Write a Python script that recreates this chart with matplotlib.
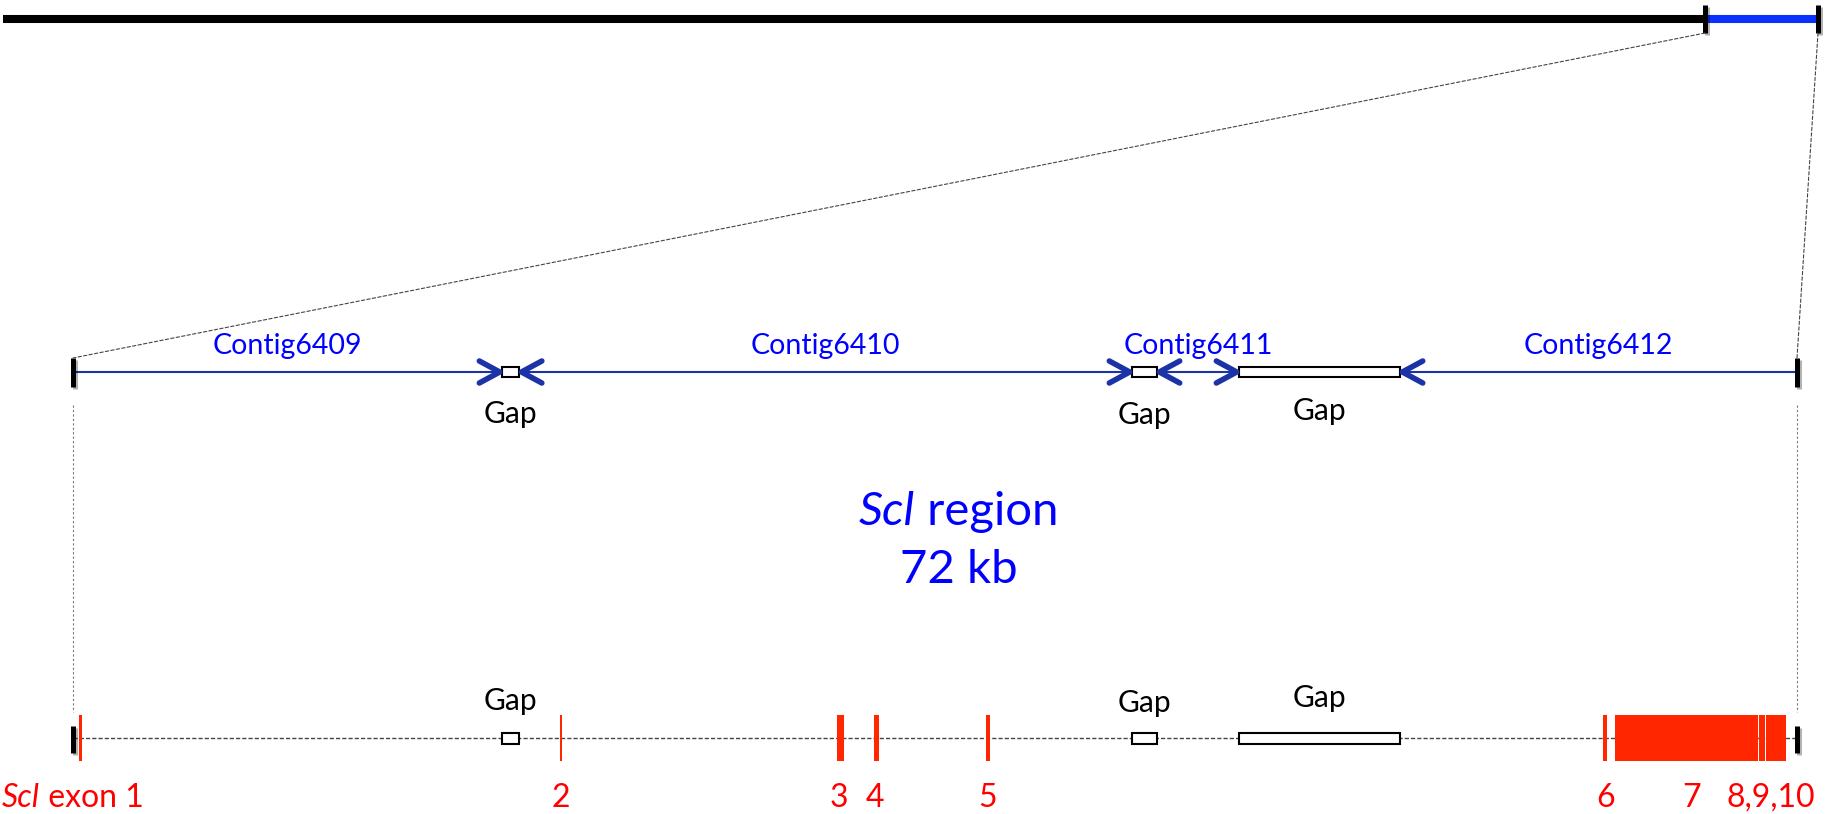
import numpy as np
import matplotlib.pyplot as plt
from matplotlib.patches import Rectangle, ConnectionPatch
import matplotlib.patheffects as pe
from matplotlib.transforms import offset_copy

plt.rcParams['font.family'] = ['Lato', 'DejaVu Sans']

# Data (positions in kb)

scaffold_len = 1157.0
region_start = 1085.0
region_len = 72.0

contig_names = ['Contig6409', 'Contig6410', 'Contig6411', 'Contig6412']
contig_start = [0.0, 18.63, 45.27, 55.42]
contig_end = [17.92, 44.23, 48.70, 72.0]

gap_start = [17.92, 44.23, 48.70]
gap_end = [18.63, 45.27, 55.42]

exon_start = [0.25, 20.34, 31.91, 33.45, 38.13, 63.90, 64.40, 70.42, 70.71]
exon_end = [0.38, 20.42, 32.20, 33.66, 38.29, 64.07, 70.37, 70.67, 71.54]

exon_labels = ['2', '3', '4', '5', '6', '7', '8,9,10']
exon_label_pos = [20.38, 32.0, 33.5, 38.2, 64.0, 67.6, 70.9]

# Layout (rows in pixels from the top, x in kb)

W, H = 1825, 814
TOP_Y, MID_Y, BOT_Y = 19, 372, 738
NAVY = '#1C33A8'
BLUE = '#0000FF'
RED = '#FF0000'
EXON_RED = '#FF2600'

fig = plt.figure(figsize=(W / 100, H / 100), dpi=100)
fig.patch.set_facecolor('white')

# main axis: 0 kb at x=73 px, 72 kb at x=1797 px
kb_px = (1797 - 73) / region_len
ax = fig.add_axes([0, 0, 1, 1])
ax.set_xlim(-73 / kb_px, (W - 73) / kb_px)
ax.set_ylim(H, 0)
ax.axis('off')

# top axis: whole scaffold from x=3 to x=1818 px
sc_px = (1818 - 3) / scaffold_len
ax_top = fig.add_axes([0, 0, 1, 1])
ax_top.set_xlim(-3 / sc_px, (W - 3) / sc_px)
ax_top.set_ylim(H, 0)
ax_top.axis('off')
ax_top.patch.set_visible(False)

shadow = [pe.SimpleLineShadow(offset=(1.5, -1.5), shadow_color='k', alpha=0.3), pe.Normal()]

# Top scaffold
ax_top.plot([0, region_start], [TOP_Y, TOP_Y], color='black', lw=5.8, solid_capstyle='butt')
ax_top.plot([region_start, scaffold_len], [TOP_Y, TOP_Y], color='#0A32FF', lw=5.8, solid_capstyle='butt')
for x in [region_start, scaffold_len]:
    ax_top.plot([x, x], [5, 33], color='black', lw=3.6, solid_capstyle='butt', path_effects=shadow)

# zoom connectors
for xa, xb in [(region_start, 0.0), (scaffold_len, region_len)]:
    con = ConnectionPatch(xyA=(xa, 33), coordsA=ax_top.transData,
                          xyB=(xb, 358), coordsB=ax.transData,
                          color='#444444', lw=0.8, linestyle=(0, (3, 2)))
    fig.add_artist(con)
    ax.plot([xb, xb], [405, 712], color='#777777', lw=0.8, linestyle=(0, (2, 2)))

# Middle row: contigs


def chevron(tip, y, direction):
    dx = 0.85 * direction
    t = tip - 0.1 * direction
    ax.plot([t - dx, t, t - dx], [y - 11, y, y + 11], color=NAVY, lw=4.0,
            solid_capstyle='round', solid_joinstyle='round', zorder=4)


for name, s, e in zip(contig_names, contig_start, contig_end):
    ax.plot([s, e], [MID_Y, MID_Y], color=NAVY, lw=1.5, zorder=2)
    if s > 0:
        chevron(s, MID_Y, -1)
    if e < region_len:
        chevron(e, MID_Y, 1)
    ax.text((s + e) / 2, 346, name, color=BLUE, fontsize=20.5, ha='center', va='center')

for x in [0.0, region_len]:
    ax.plot([x, x], [358, 387], color='black', lw=3.6, solid_capstyle='butt', path_effects=shadow)

mid_gap_y = [414, 415, 411]
bot_gap_y = [701, 703, 698]
for s, e, ym, yb in zip(gap_start, gap_end, mid_gap_y, bot_gap_y):
    ax.add_patch(Rectangle((s, MID_Y - 5), e - s, 10, fc='white', ec='black', lw=1.5, zorder=3))
    ax.text((s + e) / 2, ym, 'Gap', fontsize=21.5, ha='center', va='center')
    ax.add_patch(Rectangle((s, BOT_Y - 5.5), e - s, 11, fc='white', ec='black', lw=1.5, zorder=3))
    ax.text((s + e) / 2, yb, 'Gap', fontsize=21.5, ha='center', va='center')


def mixed_text(x, y, parts, **kw):
    renderer = fig.canvas.get_renderer()
    texts, widths = [], []
    for s, style in parts:
        t = ax.text(x, y, s, style=style, ha='left', va='center', **kw)
        texts.append(t)
        widths.append(t.get_window_extent(renderer).width)
    off = -sum(widths) / 2
    for t, w in zip(texts, widths):
        t.set_transform(offset_copy(ax.transData, fig=fig, x=off, y=0, units='dots'))
        off += w


mixed_text(37.0, 512, [('Scl', 'italic'), (' region', 'normal')], color=BLUE, fontsize=34)
ax.text(37.0, 570, '72 kb', color=BLUE, fontsize=34, ha='center', va='center')

# Bottom row: exons
ax.plot([0, region_len], [BOT_Y, BOT_Y], color='#444444', lw=1, linestyle=(0, (3, 1.5)), zorder=1)
for s, e in zip(exon_start, exon_end):
    ax.add_patch(Rectangle((s, 715), e - s, 46, fc=EXON_RED, ec='none', zorder=4))
for x in [0.0, region_len]:
    ax.plot([x, x], [726, 753], color='black', lw=3.6, solid_capstyle='butt', path_effects=shadow, zorder=5)

mixed_text(0.0, 798, [('Scl', 'italic'), (' exon 1', 'normal')], color=RED, fontsize=23)
for lab, x in zip(exon_labels, exon_label_pos):
    ax.text(x, 798, lab, color=RED, fontsize=23, ha='center', va='center')

fig.savefig('out.png', dpi=100, facecolor='white')
